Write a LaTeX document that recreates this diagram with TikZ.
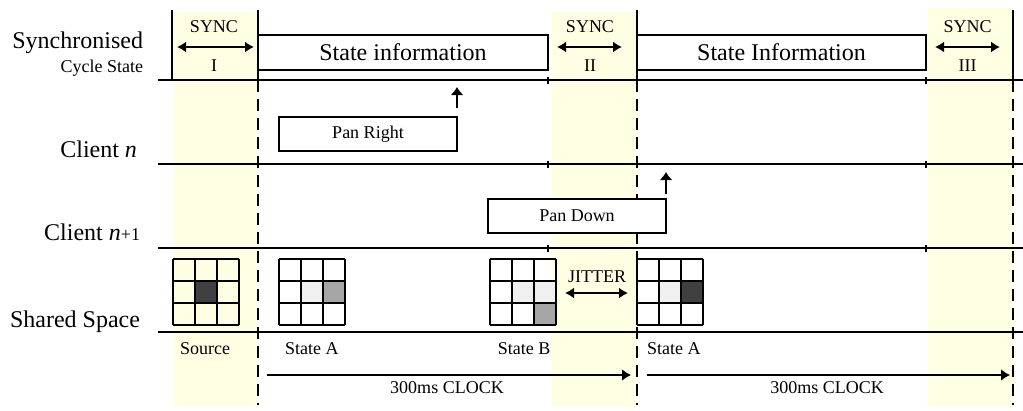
\documentclass[tikz,border=0pt]{standalone}
\usepackage{fontspec}
\setmainfont{Liberation Serif}
\usetikzlibrary{arrows.meta}
\definecolor{band}{RGB}{255,255,228}
\definecolor{darkcell}{RGB}{64,64,64}
\definecolor{midcell}{RGB}{166,166,166}
\definecolor{lightcell}{RGB}{240,240,240}

% 3x3 shared-space grid with its top-left corner at (#1,#2)
\newcommand{\cellgrid}[2]{%
  \foreach \i in {0,22,44,66} {
    \draw[gridline] (#1+\i,#2) -- (#1+\i,#2+66);
    \draw[gridline] (#1,#2+\i) -- (#1+66,#2+\i);
  }}
% one shaded cell with its top-left corner at (#1,#2)
\newcommand{\shadecell}[3]{\fill[#3] (#1,#2) rectangle (#1+22,#2+22);}

\begin{document}
\begin{tikzpicture}[x=1pt,y=-1pt,
  every node/.style={inner sep=0pt, outer sep=0pt},
  small/.style={font=\fontsize{18}{21}\selectfont},
  big/.style={font=\fontsize{24}{28}\selectfont},
  rowline/.style={line width=1.8pt},
  phase/.style={line width=2pt},
  phasedash/.style={line width=2pt, dash pattern=on 12pt off 7pt},
  tickmark/.style={line width=1.8pt},
  gridline/.style={line width=2pt},
  infobox/.style={draw, line width=2pt, fill=white, minimum height=35pt, big},
  eventbox/.style={draw, line width=2pt, fill=white, minimum width=178pt, minimum height=34pt, small},
  dbl/.style={line width=1.8pt, {Latex[length=9pt,width=11pt]}-{Latex[length=9pt,width=11pt]}},
  fwd/.style={line width=1.8pt, -{Latex[length=9pt,width=12pt]}},
  uparrow/.style={line width=1.8pt, -{Latex[length=8pt,width=13pt]}},
]
\useasboundingbox (0,0) rectangle (1023,410);

% synchronisation bands
\fill[band] (173,12) rectangle (258,407);
\fill[band] (552,12) rectangle (637,407);
\fill[band] (927,8) rectangle (1013,407);

% phase boundaries
\coordinate (b0t) at (172,10);  \coordinate (b0m) at (172,80);
\coordinate (b1t) at (258,10);  \coordinate (b1m) at (258,80);  \coordinate (b1b) at (258,405);
\coordinate (b2t) at (637,10);  \coordinate (b2m) at (637,80);  \coordinate (b2b) at (637,405);
\coordinate (b3t) at (1013,10); \coordinate (b3m) at (1013,80); \coordinate (b3b) at (1013,405);
\draw[phase] (b0t) -- (b0m);
\draw[phase] (b1t) -- (b1m);
\draw[phase] (b2t) -- (b2m);
\draw[phase] (b3t) -- (b3m);
\draw[phasedash] (b1m) -- (b1b);
\draw[phasedash] (b2m) -- (b2b);
\draw[phasedash] (b3m) -- (b3b);

% lane separators with tick marks
\foreach \y in {80,164,248} {
  \draw[rowline] (158,\y) -- (1023,\y);
  \draw[tickmark] (548,\y-3.5) -- (548,\y+3.5);
  \draw[tickmark] (926,\y-3.5) -- (926,\y+3.5);
}
\draw[rowline] (158,332) -- (1023,332);

% lane labels
\node[big, anchor=base east] (lblsync) at (143,48) {Synchronised};
\node[small, anchor=base east] (lblcycle) at (143,72) {Cycle State};
\node[big, anchor=base east] (lblcn) at (137,157) {Client \textit{n}};
\node[big, anchor=base east] (lblcn1) at (140,240) {Client \textit{n}{\fontsize{18}{21}\selectfont+1}};
\node[big, anchor=base east] (lblshared) at (140,327) {Shared Space};

% synchronisation periods
\node[small, anchor=base] (sync1) at (214,32) {SYNC};
\node[small, anchor=base] (num1) at (214,71) {I};
\coordinate (s1l) at (177,47); \coordinate (s1r) at (254,47);
\draw[dbl] (s1l) -- (s1r);

\node[small, anchor=base] (sync2) at (590,32) {SYNC};
\node[small, anchor=base] (num2) at (590,71) {II};
\coordinate (s2l) at (557,47); \coordinate (s2r) at (622,47);
\draw[dbl] (s2l) -- (s2r);

\node[small, anchor=base] (sync3) at (967.5,32) {SYNC};
\node[small, anchor=base] (num3) at (967.5,71) {III};
\coordinate (s3l) at (935,47); \coordinate (s3r) at (1000,47);
\draw[dbl] (s3l) -- (s3r);

% state information phases
\node[infobox, minimum width=290pt] (info1) at (403,52.5) {State information};
\node[infobox, minimum width=289pt] (info2) at (781.5,52.5) {State Information};

% client events
\node[eventbox] (panR) at (368,134) {Pan Right};
\coordinate (panRfrom) at (457,108); \coordinate (panRto) at (457,87);
\draw[uparrow] (panRfrom) -- (panRto);

\node[eventbox] (panD) at (577,216) {Pan Down};
\coordinate (panDfrom) at (666,194); \coordinate (panDto) at (666,172);
\draw[uparrow] (panDfrom) -- (panDto);

% shared space snapshots
\shadecell{195}{281}{darkcell}
\cellgrid{173}{259}

\shadecell{301}{281}{lightcell}
\shadecell{323}{281}{midcell}
\cellgrid{279}{259}

\shadecell{512}{281}{lightcell}
\shadecell{534}{281}{lightcell}
\shadecell{534}{303}{midcell}
\cellgrid{490}{259}

\shadecell{659}{281}{lightcell}
\shadecell{681}{281}{darkcell}
\cellgrid{637}{259}

% jitter
\node[small, anchor=base] (jitter) at (597,282) {JITTER};
\coordinate (jl) at (565,293); \coordinate (jr) at (628,293);
\draw[dbl] (jl) -- (jr);

% snapshot labels
\node[small, anchor=base] (src) at (205,354) {Source};
\node[small, anchor=base west] (stA1) at (285,354) {State A};
\node[small, anchor=base] (stB) at (524,354) {State B};
\node[small, anchor=base west] (stA2) at (647,354) {State A};

% clock periods
\coordinate (c1l) at (267,375); \coordinate (c1r) at (631,375);
\draw[fwd] (c1l) -- (c1r);
\node[small, anchor=base] (clk1) at (447,393) {300ms CLOCK};
\coordinate (c2l) at (647,375); \coordinate (c2r) at (1010,375);
\draw[fwd] (c2l) -- (c2r);
\node[small, anchor=base] (clk2) at (827,393) {300ms CLOCK};
\end{tikzpicture}
\end{document}
